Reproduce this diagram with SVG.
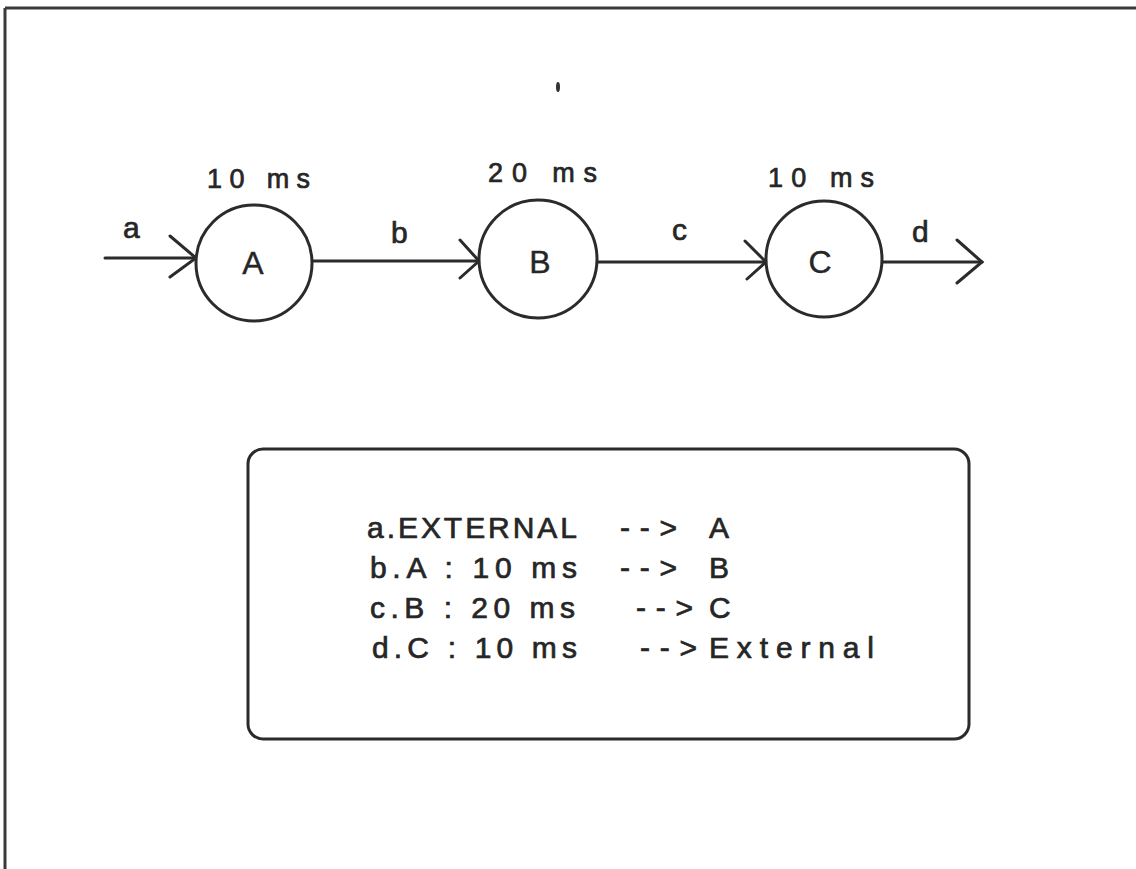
<svg xmlns="http://www.w3.org/2000/svg" width="1136" height="869" viewBox="0 0 1136 869">
  <style>
    .ln { stroke: #2b2b2b; stroke-width: 3; fill: none; stroke-linecap: round; }
    .node { stroke: #2b2b2b; stroke-width: 3; fill: #ffffff; }
    .t { font-family: "Liberation Sans", Arial, sans-serif; fill: #262626; stroke: #262626; stroke-width: 0.7; }
    .time { font-size: 27px; }
    .lbl { font-size: 30px; }
    .nl { font-size: 32px; text-anchor: middle; stroke-width: 0.4; }
    .leg { font-size: 30px; }
  </style>
  <rect x="0" y="0" width="1136" height="869" fill="#ffffff"/>
  <g id="frame">
    <line x1="5" y1="8" x2="1136" y2="8" stroke="#3a3a3a" stroke-width="3"/>
    <line x1="5" y1="8" x2="5" y2="869" stroke="#3a3a3a" stroke-width="3"/>
    <ellipse cx="558" cy="87" rx="2" ry="5" fill="#333"/>
  </g>
  <g id="connectors">
    <line class="ln" x1="105" y1="258" x2="196" y2="258"/>
    <polyline class="ln" points="170,236 196,258 170,277"/>
    <line class="ln" x1="311" y1="261" x2="479" y2="261"/>
    <polyline class="ln" points="460,240 479,261 460,278"/>
    <line class="ln" x1="597" y1="262" x2="766" y2="262"/>
    <polyline class="ln" points="745,241 766,262 747,279"/>
    <line class="ln" x1="882" y1="262" x2="982" y2="262"/>
    <polyline class="ln" points="957,240 982,262 957,283"/>
    <text class="t lbl" x="123" y="238">a</text>
    <text class="t lbl" x="391" y="243">b</text>
    <text class="t lbl" x="672" y="240">c</text>
    <text class="t lbl" x="912" y="242">d</text>
  </g>
  <g id="node-A">
    <circle class="node" cx="254" cy="263" r="58"/>
    <text class="t nl" x="253" y="274">A</text>
    <text class="t time" x="207" y="188" textLength="103" lengthAdjust="spacing">10 ms</text>
  </g>
  <g id="node-B">
    <circle class="node" cx="538" cy="259" r="59"/>
    <text class="t nl" x="540" y="273">B</text>
    <text class="t time" x="488" y="182" textLength="109" lengthAdjust="spacing">20 ms</text>
  </g>
  <g id="node-C">
    <circle class="node" cx="824" cy="259" r="58"/>
    <text class="t nl" x="820" y="273">C</text>
    <text class="t time" x="768" y="187" textLength="106" lengthAdjust="spacing">10 ms</text>
  </g>
  <g id="legend">
    <rect x="248" y="449" width="721" height="290" rx="15" ry="15" fill="none" stroke="#2b2b2b" stroke-width="3"/>
    <text class="t leg" x="367" y="538" textLength="210" lengthAdjust="spacing">a.EXTERNAL</text>
    <text class="t leg" x="620" y="538" textLength="57" lengthAdjust="spacing">--&gt;</text>
    <text class="t leg" x="709" y="538">A</text>
    <text class="t leg" x="370" y="578" textLength="207" lengthAdjust="spacing">b.A : 10 ms</text>
    <text class="t leg" x="620" y="578" textLength="57" lengthAdjust="spacing">--&gt;</text>
    <text class="t leg" x="709" y="578">B</text>
    <text class="t leg" x="370" y="618" textLength="205" lengthAdjust="spacing">c.B : 20 ms</text>
    <text class="t leg" x="636" y="618" textLength="57" lengthAdjust="spacing">--&gt;</text>
    <text class="t leg" x="709" y="618">C</text>
    <text class="t leg" x="372" y="658" textLength="205" lengthAdjust="spacing">d.C : 10 ms</text>
    <text class="t leg" x="640" y="658" textLength="57" lengthAdjust="spacing">--&gt;</text>
    <text class="t leg" x="709" y="658" textLength="165" lengthAdjust="spacing">External</text>
  </g>
</svg>
